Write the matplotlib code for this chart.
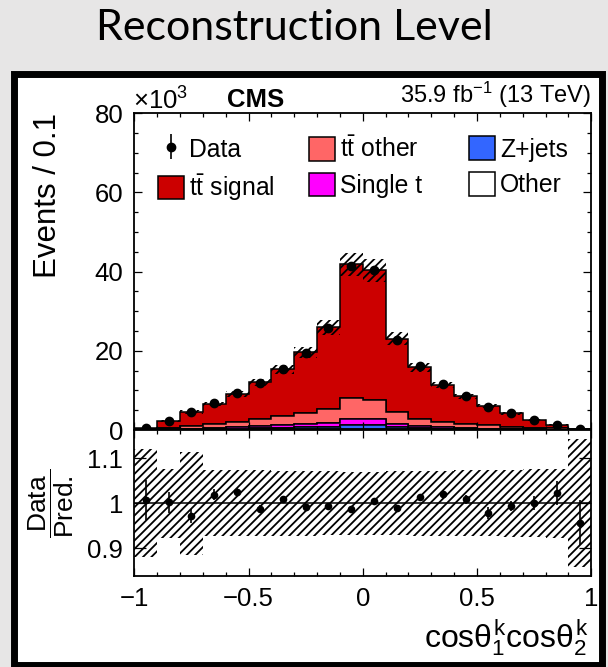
import numpy as np
import matplotlib
matplotlib.use("Agg")
import matplotlib.pyplot as plt
from matplotlib.patches import Rectangle
from matplotlib.ticker import MultipleLocator, FixedLocator, FuncFormatter, NullLocator

plt.rcParams["font.family"] = ["Liberation Sans", "DejaVu Sans"]
plt.rcParams["mathtext.fontset"] = "custom"
plt.rcParams["mathtext.rm"] = "Liberation Sans"
plt.rcParams["mathtext.it"] = "Liberation Sans"
plt.rcParams["mathtext.bf"] = "Liberation Sans:bold"
plt.rcParams["hatch.linewidth"] = 1.3

# 20 bins in cos(theta1) * cos(theta2)
edges = np.linspace(-1.0, 1.0, 21)

# predicted yields per bin, in 10^3 events
other = [0.01, 0.05, 0.08, 0.10, 0.12, 0.15, 0.17, 0.20, 0.22, 0.30,
         0.30, 0.20, 0.17, 0.15, 0.12, 0.10, 0.08, 0.05, 0.03, 0.01]
zjets = [0.01, 0.03, 0.06, 0.10, 0.20, 0.35, 0.45, 0.50, 0.65, 1.00,
         1.00, 0.50, 0.30, 0.20, 0.12, 0.08, 0.05, 0.03, 0.02, 0.01]
single_t = [0.02, 0.10, 0.20, 0.30, 0.40, 0.50, 0.70, 0.85, 1.00, 1.40,
            1.40, 0.80, 0.50, 0.35, 0.25, 0.15, 0.10, 0.06, 0.04, 0.02]
tt_other = [0.11, 0.32, 0.76, 1.00, 1.18, 1.80, 2.18, 2.65, 3.33, 5.50,
            5.00, 3.00, 1.93, 1.40, 1.11, 0.87, 0.62, 0.46, 0.31, 0.11]
tt_signal = [0.25, 1.80, 3.50, 5.10, 7.20, 9.20, 11.8, 15.4, 20.7, 33.7,
             32.6, 18.5, 13.0, 9.30, 6.90, 4.80, 3.35, 1.90, 0.90, 0.10]

# relative systematic uncertainty on the prediction
unc_rel = [0.120, 0.077, 0.115, 0.074, 0.073, 0.073, 0.072, 0.072, 0.071, 0.070,
           0.070, 0.071, 0.072, 0.072, 0.073, 0.074, 0.075, 0.076, 0.077, 0.143]

# data / prediction and its statistical error
ratio = [1.007, 1.002, 0.972, 1.019, 1.024, 0.987, 1.009, 0.991, 0.994, 0.987,
         1.005, 0.990, 1.013, 1.021, 1.009, 0.978, 0.994, 1.000, 1.023, 0.957]
ratio_err = [0.045, 0.024, 0.016, 0.012, 0.009, 0.008, 0.007, 0.006, 0.005, 0.005,
             0.005, 0.006, 0.007, 0.008, 0.010, 0.014, 0.012, 0.016, 0.027, 0.050]

centers = 0.5 * (edges[:-1] + edges[1:])
comps = [other, zjets, single_t, tt_other, tt_signal]
colors = ["white", "#3366ff", "#ff00ff", "#ff6666", "#cc0000"]
labels = ["Other", "Z+jets", "Single t", r"t$\bar{\mathrm{t}}$ other", r"t$\bar{\mathrm{t}}$ signal"]

total = np.sum(comps, axis=0)
unc = total * np.array(unc_rel)
data = total * np.array(ratio)
data_err = total * np.array(ratio_err)

W, H = 608, 667


def fx(x):
    return x / W


def fy(y):
    return 1 - y / H


fig = plt.figure(figsize=(W / 100, H / 100), dpi=100, facecolor="#e7e6e6")

# white framed panel behind the plot
frame = Rectangle((fx(13.5), fy(665)), fx(601.5) - fx(13.5), fy(73.8) - fy(665),
                  transform=fig.transFigure, facecolor="white", edgecolor="black",
                  linewidth=5, zorder=-1)
fig.patches.append(frame)

ax = fig.add_axes([fx(134.3), fy(430), fx(591.2) - fx(134.3), fy(113.3) - fy(430)])
rax = fig.add_axes([fx(134.3), fy(576), fx(591.2) - fx(134.3), fy(430) - fy(576)], sharex=ax)

# stacked prediction
ax.hist([centers] * 5, bins=edges, weights=comps, stacked=True, histtype="stepfilled",
        color=colors, edgecolor="black", linewidth=1.1, label=labels)
ax.stairs(total + unc, edges, baseline=total - unc, fill=True, facecolor="none",
          edgecolor="black", hatch="////", linewidth=0)
ax.errorbar(centers, data, yerr=data_err, fmt="o", color="black", markersize=6,
            elinewidth=1.2, capsize=0, label="Data")

# legend as three columns, each placed on its own
handles, labs = ax.get_legend_handles_labels()
hmap = dict(zip(labs, handles))
columns = [["Data", labels[4]], [labels[3], labels[2]], [labels[1], labels[0]]]
col_x = [0.0525, 0.382, 0.7325]
for i, (col, x0) in enumerate(zip(columns, col_x)):
    leg = ax.legend([hmap[k] for k in col], col, loc="upper left",
                    bbox_to_anchor=(x0, 0.927), frameon=False, fontsize=17.8,
                    handlelength=1.05, handleheight=1.1, handletextpad=0.2,
                    labelspacing=0.42, borderpad=0, borderaxespad=0)
    if i < 2:
        ax.add_artist(leg)

ax.set_xlim(-1, 1)
ax.set_ylim(0, 80)

# ratio panel
rax.stairs(1 + np.array(unc_rel), edges, baseline=1 - np.array(unc_rel), fill=True,
           facecolor="none", edgecolor="black", hatch="////", linewidth=0)
rax.axhline(1, color="black", linewidth=1.1)
rax.errorbar(centers, ratio, yerr=ratio_err, fmt="o", color="black", markersize=4.5,
             elinewidth=1.2, capsize=0)
rax.set_ylim(0.838, 1.163)


def fmt(v, p):
    return ("%g" % v).replace("-", "\u2212")


for a in (ax, rax):
    a.tick_params(which="both", direction="in", top=True, right=True, width=0.9,
                  labelsize=18.5, pad=8)
    a.tick_params(which="major", length=6)
    a.tick_params(which="minor", length=3)
    for s in a.spines.values():
        s.set_linewidth(1.3)

ax.xaxis.set_major_locator(MultipleLocator(0.5))
ax.xaxis.set_minor_locator(MultipleLocator(0.1))
ax.yaxis.set_major_locator(MultipleLocator(20))
ax.yaxis.set_minor_locator(MultipleLocator(5))
ax.tick_params(labelbottom=False)
rax.xaxis.set_major_formatter(FuncFormatter(fmt))
rax.yaxis.set_major_locator(FixedLocator([0.9, 1.0, 1.1]))
rax.yaxis.set_minor_locator(NullLocator())
rax.yaxis.set_major_formatter(FuncFormatter(fmt))
rax.tick_params(axis="y", which="major", length=8.6)

# labels
fig.text(fx(294), fy(40), "Reconstruction Level", ha="center", va="baseline",
         fontsize=31, family="Lato")
fig.text(fx(133), fy(110), "\u00d710$^{3}$", ha="left", va="baseline", fontsize=18.5)
fig.text(fx(256), fy(106.7), "CMS", ha="center", va="baseline", fontsize=18.5,
         weight="bold")
fig.text(fx(591), fy(103.3), r"35.9 fb$^{-1}$ (13 TeV)", ha="right", va="baseline",
         fontsize=17)
fig.text(fx(48), fy(113), "Events / 0.1", rotation=90, ha="center", va="top",
         fontsize=22.5)
fig.text(fx(51), fy(503), r"$\dfrac{\mathrm{Data}}{\mathrm{Pred.}}$", rotation=90,
         ha="center", va="center", fontsize=19)
fig.text(fx(589), fy(638), r"cos$\theta_1^k$cos$\theta_2^k$", ha="right", va="center",
         fontsize=23)

fig.savefig("out.png", dpi=100, facecolor=fig.get_facecolor())
